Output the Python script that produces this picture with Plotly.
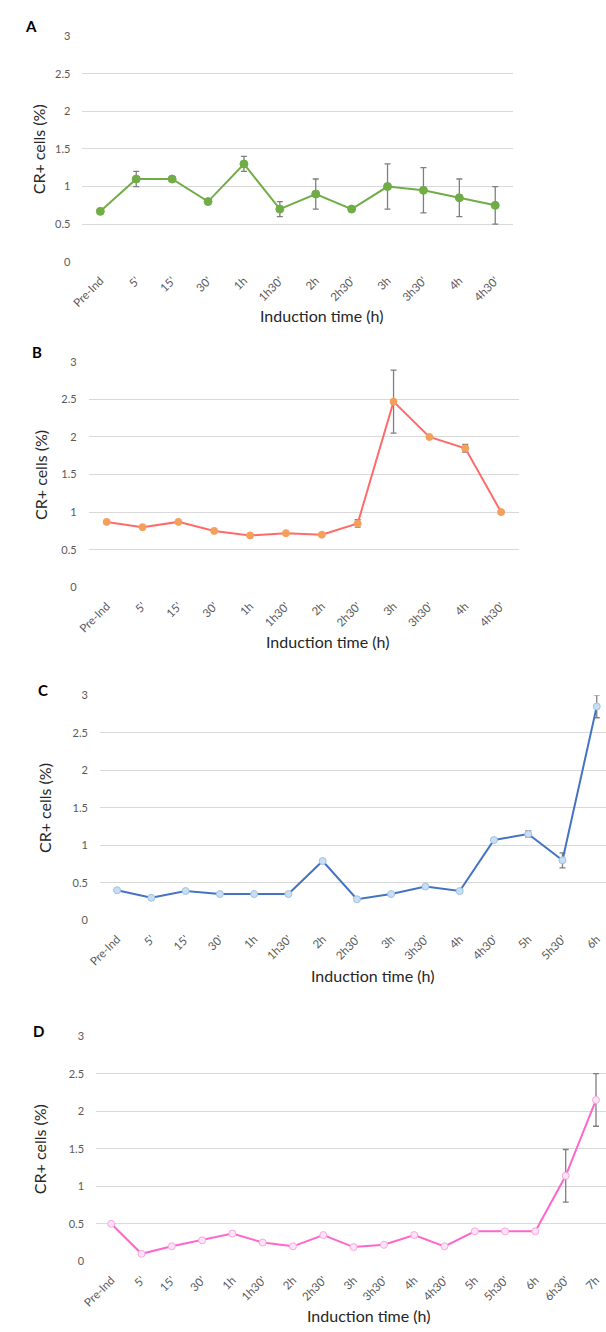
import plotly.graph_objects as go

# ---------------- data ----------------
cats_a = ["Pre-Ind", "5'", "15'", "30'", "1h", "1h30'", "2h", "2h30'", "3h", "3h30'", "4h", "4h30'"]
vals_a = [0.67, 1.10, 1.10, 0.80, 1.30, 0.70, 0.90, 0.70, 1.00, 0.95, 0.85, 0.75]
err_a = [0, 0.10, 0, 0, 0.10, 0.10, 0.20, 0, 0.30, 0.30, 0.25, 0.25]

cats_b = ["Pre-Ind", "5'", "15'", "30'", "1h", "1h30'", "2h", "2h30'", "3h", "3h30'", "4h", "4h30'"]
vals_b = [0.87, 0.80, 0.87, 0.75, 0.69, 0.72, 0.70, 0.85, 2.47, 2.00, 1.85, 1.00]
err_b = [0, 0, 0, 0, 0, 0, 0, 0.05, 0.42, 0, 0.05, 0]

cats_c = ["Pre-Ind", "5'", "15'", "30'", "1h", "1h30'", "2h", "2h30'", "3h", "3h30'", "4h",
          "4h30'", "5h", "5h30'", "6h"]
vals_c = [0.40, 0.30, 0.39, 0.35, 0.35, 0.35, 0.79, 0.28, 0.35, 0.45, 0.39, 1.07, 1.15, 0.80, 2.85]
err_c = [0, 0, 0, 0, 0, 0, 0, 0, 0, 0, 0, 0, 0.04, 0.10, 0.15]

cats_d = ["Pre-Ind", "5'", "15'", "30'", "1h", "1h30'", "2h", "2h30'", "3h", "3h30'", "4h",
          "4h30'", "5h", "5h30'", "6h", "6h30'", "7h"]
vals_d = [0.50, 0.10, 0.20, 0.28, 0.37, 0.25, 0.20, 0.35, 0.19, 0.22, 0.35, 0.20, 0.40, 0.40, 0.40, 1.14, 2.15]
err_d = [0, 0, 0, 0, 0, 0, 0, 0, 0, 0, 0, 0, 0, 0, 0, 0.35, 0.35]

y_ticks = [0, 0.5, 1, 1.5, 2, 2.5, 3]
y_ticktext = ["0", "0.5", "1", "1.5", "2", "2.5", "3"]
panel_letters = ["A", "B", "C", "D"]
x_title = "Induction time (h)"
y_title = "CR+ cells (%)"

# ---------------- layout helpers ----------------
W, H = 606, 1332
FONT = "Lato, Carlito, Calibri, sans-serif"


def px_x(p):
    return p / W


def px_y(p):
    return 1 - p / H


panels = [
    dict(cats=cats_a, vals=vals_a, errs=err_a, line="#70AD47", mfill="#70AD47", mline="#70AD47", msize=8,
         x0=70, x1=511, ytop=29.3, ybot=257.3, xend=None, letter=(17, 19), ytx=26, xt=(315, 312)),
    dict(cats=cats_b, vals=vals_b, errs=err_b, line="#FF6B6B", mfill="#F4A05A", mline="#F4A05A", msize=7,
         x0=76.5, x1=517, ytop=358.3, ybot=586, xend=None, letter=(24, 348), ytx=27, xt=(321, 641)),
    dict(cats=cats_c, vals=vals_c, errs=err_c, line="#4472C4", mfill="#C9DEF2", mline="#9DC3E6", msize=7,
         x0=88, x1=606, ytop=695, ybot=922.3, xend=14.27, letter=(30, 690), ytx=31, xt=(367, 978)),
    dict(cats=cats_d, vals=vals_d, errs=err_d, line="#FF66CC", mfill="#FDE3F5", mline="#F5A9DF", msize=7,
         x0=84, x1=606, ytop=1039.3, ybot=1266.7, xend=16.33, letter=(25, 1034), ytx=26, xt=(363, 1321)),
]

fig = go.Figure()
annotations = []

for i, p in enumerate(panels):
    n = i + 1
    xa = "x" if n == 1 else f"x{n}"
    ya = "y" if n == 1 else f"y{n}"
    fig.add_trace(go.Scatter(
        x=p["cats"], y=p["vals"], xaxis=xa, yaxis=ya, mode="lines+markers",
        line=dict(color=p["line"], width=2),
        marker=dict(size=p["msize"], color=p["mfill"], line=dict(color=p["mline"], width=1)),
        error_y=dict(type="data", array=p["errs"], visible=True, color="#7F7F7F", thickness=1.3, width=3),
        showlegend=False, cliponaxis=False,
    ))
    xkey = "xaxis" if n == 1 else f"xaxis{n}"
    ykey = "yaxis" if n == 1 else f"yaxis{n}"
    ncat = len(p["cats"])
    xr = [-0.5, p["xend"] if p["xend"] is not None else ncat - 0.5]
    fig.update_layout(**{
        xkey: dict(domain=[px_x(p["x0"]), px_x(p["x1"])], anchor=ya, type="category",
                   range=xr, showgrid=False, zeroline=False, showline=False, ticks="",
                   tickangle=-45, tickfont=dict(family=FONT, size=11.5, color="#595959"),
                   ticklabelstandoff=9, fixedrange=True),
        ykey: dict(domain=[px_y(p["ybot"]), px_y(p["ytop"])], anchor=xa, range=[0, 3],
                   tickvals=y_ticks, ticktext=y_ticktext, showgrid=True, gridcolor="#D9D9D9",
                   gridwidth=1, zeroline=False, showline=False, ticks="",
                   tickfont=dict(family=FONT, size=11, color="#595959"),
                   ticklabelstandoff=11, fixedrange=True),
    })
    annotations.append(dict(text=f"<b>{panel_letters[i]}</b>", x=px_x(p["letter"][0]), y=px_y(p["letter"][1]),
                            xref="paper", yref="paper", showarrow=False, xanchor="center", yanchor="middle",
                            font=dict(family=FONT, size=15, color="#000000")))
    annotations.append(dict(text=y_title, x=px_x(p["ytx"]), y=px_y((p["ytop"] + p["ybot"]) / 2),
                            xref="paper", yref="paper", showarrow=False, textangle=-90,
                            xanchor="center", yanchor="middle",
                            font=dict(family=FONT, size=16, color="#262626")))
    annotations.append(dict(text=x_title, x=px_x(p["xt"][0]), y=px_y(p["xt"][1]),
                            xref="paper", yref="paper", showarrow=False,
                            xanchor="center", yanchor="middle",
                            font=dict(family=FONT, size=16, color="#262626")))

fig.update_layout(
    width=W, height=H, margin=dict(l=0, r=0, t=0, b=0),
    paper_bgcolor="white", plot_bgcolor="white",
    annotations=annotations, showlegend=False,
)

fig.write_html("out.html", config={"displayModeBar": False})
